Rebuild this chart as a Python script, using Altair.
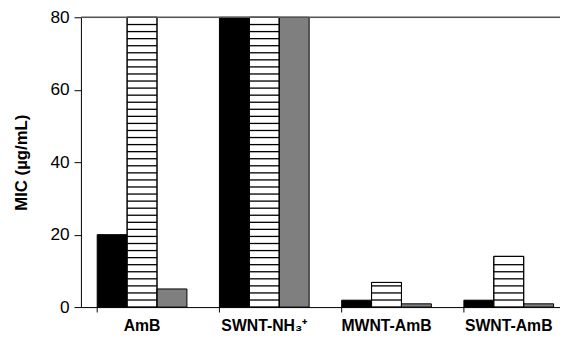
import altair as alt
import pandas as pd

categories = ["AmB", "SWNT-NH₃⁺", "MWNT-AmB", "SWNT-AmB"]
series = ["s1", "s2", "s3"]
values_s1 = [20, 80, 1.9, 1.9]
values_s2 = [80, 80, 6.8, 14.0]
values_s3 = [5, 80, 0.9, 0.9]
y_ticks = [0, 20, 40, 60, 80]

rows = []
for i, c in enumerate(categories):
    for s, vals in zip(series, [values_s1, values_s2, values_s3]):
        rows.append({"cat": c, "series": s, "value": vals[i]})
df = pd.DataFrame(rows)

# stripes for the hatched series, derived from its values
stripe_step = 1.95
stripes = []
for i, c in enumerate(categories):
    v = values_s2[i]
    k = 1
    while k * stripe_step < v - 0.6:
        y = k * stripe_step
        stripes.append({"cat": c, "series": "s2", "y": y - 0.18, "y2": y + 0.18})
        k += 1
sdf = pd.DataFrame(stripes)

font = "Liberation Sans"
xscale = alt.Scale(domain=categories, range=[0, 496], paddingInner=0.266, paddingOuter=0.133)
yscale = alt.Scale(domain=[0, 80], clamp=True, nice=False)
offscale = alt.Scale(domain=series, paddingInner=0, paddingOuter=0)

x_enc = alt.X("cat:N", scale=xscale, sort=categories, title=None,
              axis=alt.Axis(labelAngle=0, bandPosition=0, labelFont=font, labelFontSize=16,
                            labelFontWeight="bold", labelColor="black", domainColor="black",
                            tickColor="black", tickSize=5, labelPadding=6, domainWidth=1,
                            labelOverlap=False, labelBound=False))

bars = alt.Chart(df).mark_bar(stroke="black", strokeWidth=1).encode(
    x=x_enc,
    xOffset=alt.XOffset("series:N", scale=offscale),
    y=alt.Y("value:Q", scale=yscale, title="MIC (µg/mL)",
            axis=alt.Axis(values=y_ticks, grid=False, labelFont=font, labelFontSize=17.5,
                          labelColor="black", domainColor="black", tickColor="black",
                          tickSize=7, labelPadding=5, titleFont=font, titleFontSize=17,
                          titleFontWeight="bold", titleColor="black", titlePadding=20,
                          labelBound=False, labelFlush=False)),
    color=alt.Color("series:N", scale=alt.Scale(domain=series, range=["#000000", "#ffffff", "#7f7f7f"]),
                    legend=None),
)

stripe_layer = alt.Chart(sdf).mark_bar(color="black", strokeWidth=0).encode(
    x=alt.X("cat:N", scale=xscale, sort=categories),
    xOffset=alt.XOffset("series:N", scale=offscale),
    y=alt.Y("y:Q", scale=yscale),
    y2="y2:Q",
)

outline = alt.Chart(df).transform_filter(alt.datum.series == "s2").mark_bar(
    fill=None, stroke="black", strokeWidth=1).encode(
    x=alt.X("cat:N", scale=xscale, sort=categories),
    xOffset=alt.XOffset("series:N", scale=offscale),
    y=alt.Y("value:Q", scale=yscale),
)

top = alt.Chart(pd.DataFrame({"v": [80]})).mark_rule(color="#555555", strokeWidth=1.5).encode(
    y=alt.Y("v:Q", scale=yscale))

chart = alt.layer(bars, stripe_layer, outline, top).properties(
    width=486, height=294,
    autosize=alt.AutoSizeParams(type="none"),
    padding={"left": 74, "top": 7, "right": 0, "bottom": 32},
).configure_view(stroke=None).configure(background="white")

chart.save("out.html", embed_options={"renderer": "svg", "actions": False})
